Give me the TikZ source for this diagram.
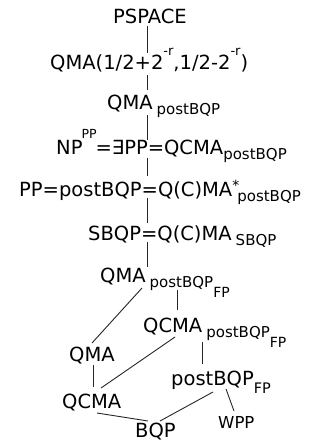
\documentclass[tikz,border=0pt]{standalone}
\usepackage{fontspec}
\setmainfont{DejaVu Sans}
\usetikzlibrary{calc}
\newcommand\fsz[1]{\fontsize{#1}{#1}\selectfont}
\newcommand\sbsc[1]{\raisebox{-5pt}{\fsz{15}#1}}
\newcommand\sbsbsc[1]{\raisebox{-15pt}{\fsz{14}#1}}
\newcommand\spsc[1]{\raisebox{14.5pt}{\fsz{13}#1}}
\begin{document}
\begin{tikzpicture}[
  lbl/.style={inner sep=0pt, anchor=base west, font=\fsz{19.5}, text=black},
  conn/.style={draw=black!85, line width=0.9pt}
]
\useasboundingbox (0,0) rectangle (321pt,-441pt);
\node[lbl] (r1) at (113pt,-24pt) {PSPACE};
\node[lbl] (r2) at (50pt,-70pt) {QMA(1/2+2\spsc{-r},1/2-2\spsc{-r})};
\node[lbl] (r3) at (107pt,-110pt) {QMA\hspace{4pt}\sbsc{postBQP}};
\node[lbl] (r4) at (56pt,-154pt) {NP\hspace{-1pt}\raisebox{16pt}{\fsz{12.5}PP}\hspace{-1pt}=∃PP=QCMA\sbsc{postBQP}};
\node[lbl] (r5) at (19pt,-196pt) {PP=postBQP=Q(C)MA\rlap{\raisebox{6pt}{\fsz{14}*}}\hspace{5pt}\sbsc{postBQP}};
\node[lbl] (r6) at (88pt,-240pt) {SBQP=Q(C)MA\hspace{4pt}\sbsc{SBQP}};
\node[lbl] (r7) at (100pt,-282pt) {QMA\hspace{4pt}\sbsc{postBQP}\sbsbsc{FP}};
\node[lbl] (r8) at (143pt,-332pt) {QCMA\hspace{4pt}\sbsc{postBQP}\sbsbsc{FP}};
\node[lbl] (r9) at (69pt,-361pt) {QMA};
\node[lbl] (r10) at (171pt,-385pt) {postBQP\raisebox{-8pt}{\fsz{14.5}FP}};
\node[lbl] (r11) at (62pt,-408pt) {QCMA};
\node[lbl, font=\fsz{16.5}] (r12) at (218pt,-428pt) {WPP};
\node[lbl] (r13) at (135pt,-437pt) {BQP};

\draw[conn] ($(r1.base west)+(34pt,-2pt)$) -- ($(r2.base west)+(97pt,17pt)$);
\draw[conn] ($(r2.base west)+(97pt,-5pt)$) -- ($(r3.base west)+(40pt,20pt)$);
\draw[conn] ($(r3.base west)+(40pt,-5pt)$) -- ($(r4.base west)+(91pt,14pt)$);
\draw[conn] ($(r4.base west)+(91pt,-4pt)$) -- ($(r5.base west)+(128pt,20pt)$);
\draw[conn] ($(r5.base west)+(128pt,-2pt)$) -- ($(r6.base west)+(59pt,17pt)$);
\draw[conn] ($(r6.base west)+(59pt,-2pt)$) -- ($(r7.base west)+(47pt,15pt)$);
\draw[conn] ($(r7.base west)+(42pt,-6pt)$) -- ($(r9.base west)+(23pt,18pt)$);
\draw[conn] ($(r7.base west)+(77pt,-8pt)$) -- ($(r8.base west)+(34pt,22pt)$);
\draw[conn] ($(r8.base west)+(32pt,-5pt)$) -- ($(r11.base west)+(39pt,20pt)$);
\draw[conn] ($(r8.base west)+(59pt,-10pt)$) -- ($(r10.base west)+(31pt,21pt)$);
\draw[conn] ($(r9.base west)+(24pt,-4pt)$) -- ($(r11.base west)+(31pt,21pt)$);
\draw[conn] ($(r11.base west)+(35pt,-5pt)$) -- ($(r13.base west)+(13pt,16pt)$);
\draw[conn] ($(r13.base west)+(25pt,16pt)$) -- ($(r10.base west)+(42pt,-7pt)$);
\draw[conn] ($(r10.base west)+(55pt,-4pt)$) -- ($(r12.base west)+(16pt,17pt)$);
\end{tikzpicture}
\end{document}
